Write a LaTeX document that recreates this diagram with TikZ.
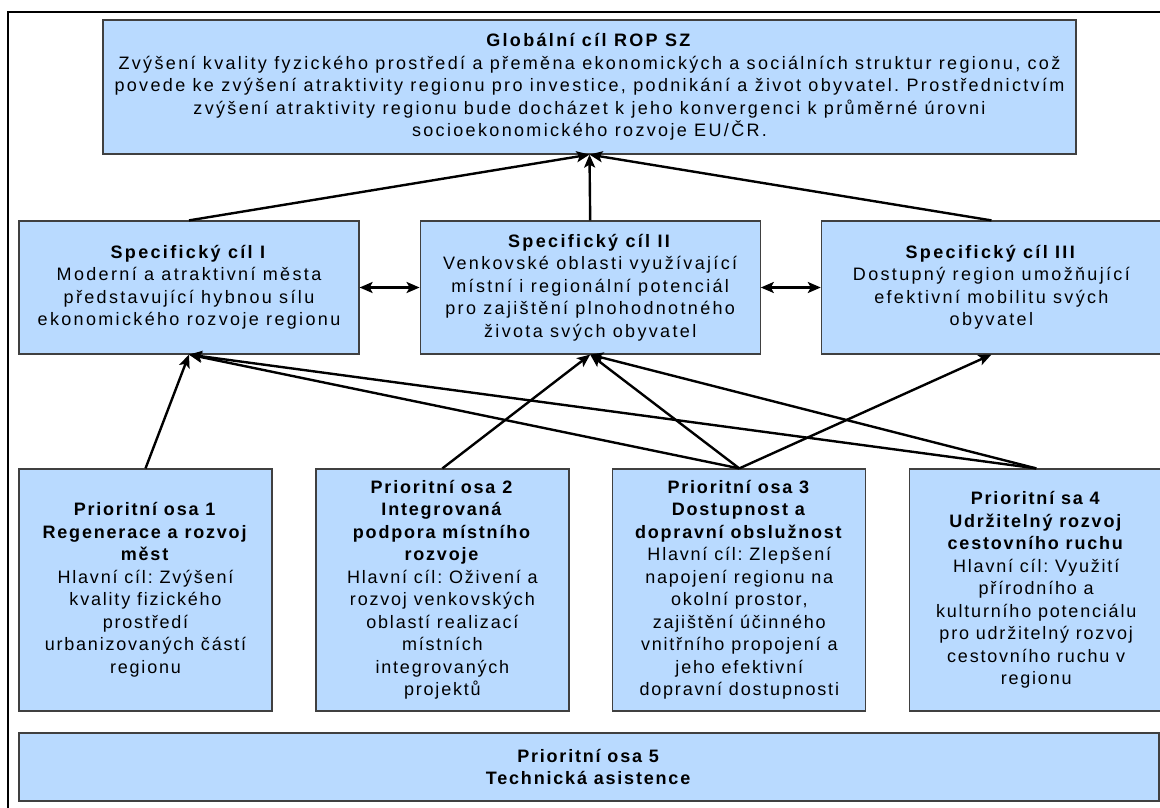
\documentclass[tikz,border=0pt]{standalone}
\usepackage{fontspec}
\setmainfont{Liberation Sans}[LetterSpace=10]
\frenchspacing
\usetikzlibrary{arrows.meta,chains,positioning}
\definecolor{boxblue}{RGB}{185,218,255}
\tikzset{
  cilbox/.style={draw=black!75,fill=boxblue,line width=1.2pt,align=center,inner sep=2pt,
    font=\fontsize{18}{22.5}\selectfont},
  wide/.style={font=\fontsize{18}{22.5}\selectfont\addfontfeature{LetterSpace=13}},
  arr/.style={-{Stealth[length=13pt,width=11pt,inset=3pt]},line width=2.4pt},
  biarr/.style={{Stealth[length=13pt,width=11pt,inset=3pt]}-{Stealth[length=13pt,width=11pt,inset=3pt]},line width=2.4pt}
}
\begin{document}
\begin{tikzpicture}[x=1pt,y=-1pt]
\useasboundingbox (0,0) rectangle (1160,808);
\draw[line width=1.5pt] (1175,12) -- (8,12) -- (8,825);

\node[cilbox,wide,minimum width=973pt,minimum height=134pt] (goal) at (589.5,87)
  {\textbf{Globální cíl ROP SZ}\\
   Zvýšení kvality fyzického prostředí  a přeměna ekonomických a sociálních struktur regionu, což\\
   povede ke zvýšení atraktivity regionu pro investice, podnikání a život obyvatel. Prostřednictvím\\
   zvýšení atraktivity regionu bude docházet k jeho konvergenci k průměrné úrovni\\
   socioekonomického rozvoje EU/ČR.};

\begin{scope}[shift={(189,287.5)},start chain=going right,node distance=60pt]
\def\specs{1/{Specifický cíl I}/{Moderní a atraktivní města\\představující hybnou sílu\\ekonomického rozvoje regionu},
  2/{Specifický cíl II}/{Venkovské oblasti využívající\\místní i regionální potenciál\\pro zajištění plnohodnotného\\života svých obyvatel},
  3/{Specifický cíl III}/{Dostupný region umožňující\\efektivní mobilitu svých\\obyvatel}}
\foreach \i / \head / \body in \specs
  \node[cilbox,wide,on chain,minimum width=340pt,minimum height=133pt] (s\i) {\textbf{\head}\\\body};
\end{scope}

\begin{scope}[shift={(145.5,590)},start chain=going right,node distance=42.7pt]
\def\osy{1/{\textbf{Prioritní osa 1}\\\textbf{Regenerace  a rozvoj}\\\textbf{měst}\\Hlavní cíl: Zvýšení\\kvality fizického\\prostředí\\urbanizovaných částí\\regionu},
  2/{\textbf{Prioritní osa 2}\\\textbf{Integrovaná}\\\textbf{podpora místního}\\\textbf{rozvoje}\\Hlavní cíl: Oživení a\\rozvoj venkovských\\oblastí realizací\\místních\\integrovaných\\projektů},
  3/{\textbf{Prioritní osa 3}\\\textbf{Dostupnost  a}\\\textbf{dopravní obslužnost}\\Hlavní cíl: Zlepšení\\napojení regionu na\\okolní prostor,\\zajištění účinného\\vnitřního propojení a\\jeho efektivní\\dopravní dostupnosti},
  4/{\textbf{Prioritní sa 4}\\\textbf{Udržitelný rozvoj}\\\textbf{cestovního ruchu}\\Hlavní cíl: Využití\\přírodního a\\kulturního potenciálu\\pro udržitelný rozvoj\\cestovního ruchu v\\regionu}}
\foreach \i / \txt in \osy
  \node[cilbox,on chain,minimum width=253pt,minimum height=242pt] (p\i) {\txt};
\end{scope}

\node[cilbox,minimum width=1140pt,minimum height=68pt] (p5) at (589,767)
  {\textbf{Prioritní osa 5}\\\textbf{Technická asistence}};

\foreach \i in {1,2,3}
  \draw[arr] (s\i.north) -- (goal.south);
\draw[biarr] (s1.east) -- (s2.west);
\draw[biarr] (s2.east) -- (s3.west);

\draw[arr] (p1.north) -- (s1.south);
\draw[arr] (p2.north) -- (s2.south);
\draw[arr] (p3.north) -- (s1.south);
\draw[arr] (p3.north) -- (s2.south);
\draw[arr] (p3.north) -- (s3.south);
\draw[arr] (p4.north) -- (s1.south);
\draw[arr] (p4.north) -- (s2.south);

\end{tikzpicture}
\end{document}
